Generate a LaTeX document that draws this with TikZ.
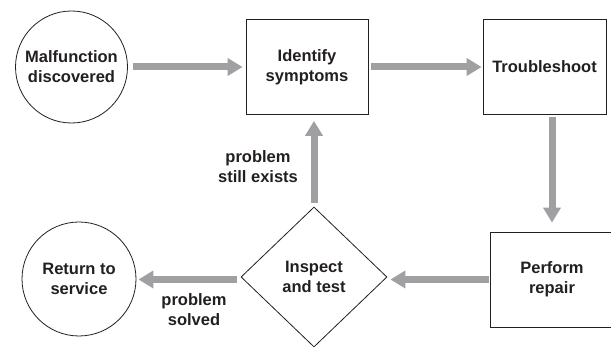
\documentclass[tikz,border=0pt]{standalone}
\usepackage{fontspec}
\setmainfont{Liberation Sans}
\usetikzlibrary{arrows.meta,shapes.geometric}
\definecolor{arr}{RGB}{160,160,163}
\definecolor{ink}{RGB}{35,31,32}
\begin{document}
\begin{tikzpicture}[x=1pt,y=-1pt,
 lbl/.style={font=\fontsize{16.5}{20}\selectfont\bfseries, text=ink, align=center},
 circ/.style={lbl, circle, draw=ink, line width=0.8pt, minimum size=112pt, inner sep=0pt},
 boxn/.style={lbl, rectangle, draw=ink, line width=0.8pt, minimum width=122pt, minimum height=95pt, inner sep=0pt},
 dia/.style={lbl, diamond, draw=ink, line width=0.8pt, minimum width=146pt, minimum height=140pt, inner sep=0pt},
 flow/.style={draw=arr, line width=7pt, -{Triangle[width=17pt,length=15pt]}}]
\useasboundingbox (0,0) rectangle (611,347);
\node[circ] (mal) at (71.5,67) {Malfunction\\discovered};
\node[boxn] (ident) at (307,67) {Identify\\symptoms};
\node[boxn, minimum width=123pt] (trouble) at (544.5,67) {Troubleshoot};
\node[boxn, minimum width=124pt] (repair) at (552,279.5) {Perform\\repair};
\node[dia] (insp) at (314,277) {Inspect\\and test};
\node[circ, minimum size=114pt] (ret) at (79,279) {Return to\\service};
\coordinate (dx) at (552,0);
\draw[flow, shorten <=5pt, shorten >=3pt] (mal.east) -- (ident.west);
\draw[flow, shorten <=3pt, shorten >=1pt] (ident.east) -- (trouble.west);
\draw[flow, shorten <=2pt, shorten >=9pt] (trouble.south -| dx) -- (repair.north);
\draw[flow, shorten <=1pt, shorten >=3pt] (repair.west) -- (repair.west -| insp.east);
\draw[flow, shorten <=4pt, shorten >=2pt] (repair.west -| insp.west) -- (repair.west -| ret.east);
\draw[flow, shorten <=4pt, shorten >=6pt] (insp.north) -- (insp.north |- ident.south);
\node[lbl] (still) at (258,167) {problem\\still exists};
\node[lbl] (solved) at (194,310) {problem\\solved};
\end{tikzpicture}
\end{document}
